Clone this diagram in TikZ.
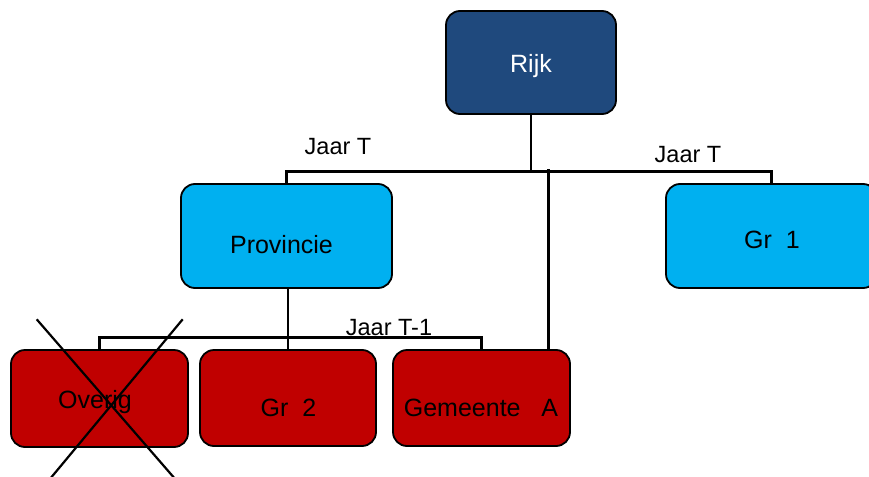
\documentclass[tikz,border=0pt]{standalone}
\usepackage{fontspec}
\setmainfont{Liberation Sans}
\definecolor{rijkblue}{HTML}{1F497D}
\definecolor{lightblue}{HTML}{00B0F0}
\definecolor{boxred}{HTML}{C00000}
\newcommand\boxtxt[3]{\raisebox{-#2}[0pt][0pt]{\makebox[0pt]{\hspace*{#1}\hspace*{#1}#3}}}
\begin{document}
\begin{tikzpicture}[x=1pt,y=-1pt,
  orgbox/.style={draw=black,line width=1.8pt,rounded corners=14pt,inner sep=0pt,
    font=\fontsize{25}{30}\selectfont},
  conn/.style={draw=black,line width=2.6pt},
  crossline/.style={draw=black,line width=2.2pt},
  lbl/.style={inner sep=0pt,anchor=base,font=\fontsize{23.5}{28}\selectfont}]
\useasboundingbox (0,0) rectangle (869,476);
\clip (0,0) rectangle (869,476);
% boxes
\node[orgbox,fill=rijkblue,text=white,minimum width=170pt,minimum height=103pt] (rijk) at (531,62.5) {\boxtxt{0pt}{10pt}{Rijk}};
\node[orgbox,fill=lightblue,minimum width=211pt,minimum height=104pt] (prov) at (286.5,236) {\boxtxt{-5pt}{17pt}{Provincie}};
\node[orgbox,fill=lightblue,minimum width=211pt,minimum height=104pt] (gr1) at (771.5,236) {\boxtxt{0.5pt}{12pt}{Gr\ \ 1}};
\node[orgbox,fill=boxred,minimum width=177pt,minimum height=97pt] (ov) at (99.5,398.5) {\boxtxt{-4.5pt}{9.5pt}{Overig}};
\node[orgbox,fill=boxred,minimum width=176pt,minimum height=96pt] (gr2) at (288,398) {\boxtxt{0.4pt}{18pt}{Gr\ \ 2}};
\node[orgbox,fill=boxred,minimum width=177pt,minimum height=96pt] (gem) at (481.5,398) {\boxtxt{-0.5pt}{18pt}{Gemeente\ \ \ A}};
% connector coordinates
\coordinate (bar1) at (531.7,171.7);
\coordinate (vtop) at (548.7,169);
\coordinate (bar2) at (288,337.7);
% upper connectors
\draw[conn] (rijk.south) -- (rijk.south |- bar1);
\draw[conn] (prov.north) -- (prov.north |- bar1) -- (gr1.north |- bar1) -- (gr1.north);
\draw[conn] (vtop) -- (vtop |- gem.north);
% lower connectors
\draw[conn] (prov.south -| bar2) -- (gr2.north -| bar2);
\draw[conn] (ov.north) -- (ov.north |- bar2) -- (gem.north |- bar2) -- (gem.north);
% labels
\node[lbl] (lblT1) at (338,154) {Jaar T};
\node[lbl] (lblT2) at (688,162) {Jaar T};
\node[lbl] (lblT3) at (389,335) {Jaar T-1};
% cross over Overig
\draw[crossline] (36.7,319.3) -- (176,480);
\draw[crossline] (182.7,319.3) -- (49.1,480);
\end{tikzpicture}
\end{document}
